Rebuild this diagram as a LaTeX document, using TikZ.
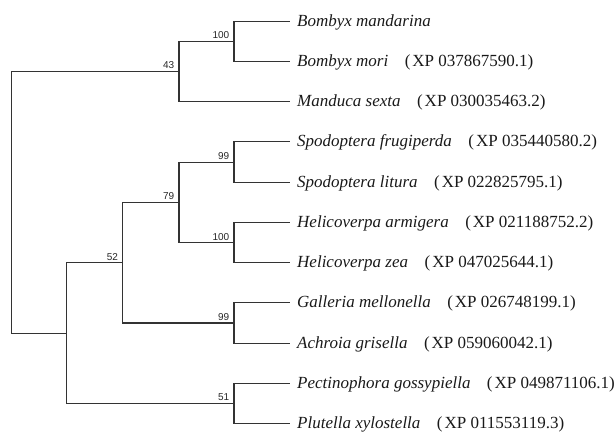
\documentclass[tikz,border=0pt]{standalone}
\usepackage{fontspec}
\setmainfont{Liberation Serif}
\newfontfamily\bsfont{Liberation Sans}
\begin{document}
\begin{tikzpicture}[x=1pt,y=-1pt,
  branch/.style={draw=black!80, line width=1.1pt},
  boot/.style={font=\bsfont\fontsize{10}{12}\selectfont, text=black!85, anchor=base east, inner sep=0pt, xshift=-4.5pt, yshift=2.6pt},
  leaf/.style={font=\fontsize{17}{20}\selectfont, text=black!90, anchor=base west, inner sep=0pt}]
\useasboundingbox (0,0) rectangle (616,433);
% internal nodes
\coordinate (root) at (11.7,202);
\coordinate (n43) at (179,71.3);
\coordinate (nBm) at (234,41.4);
\coordinate (nlow) at (66.7,333.1);
\coordinate (n52) at (122.7,262.7);
\coordinate (n79) at (179,202.3);
\coordinate (nSp) at (234,162.1);
\coordinate (nHe) at (234,242.6);
\coordinate (nGa) at (234,323);
\coordinate (nPe) at (234,403.2);
% leaf tips
\foreach \i/\y in {1/21.7,2/61.1,3/101.2,4/141.9,5/182.2,6/222.6,7/262.7,8/302.9,9/343.1,10/383.3,11/423.2}{
  \coordinate (t\i) at (290,\y);
}
% leaf labels
\newcommand{\acc}[1]{\hspace{16.5pt}(\hspace{2pt}XP #1)}
\node[leaf] (l1) at ([xshift=7pt,yshift=-5pt]t1) {\textit{Bombyx mandarina}};
\node[leaf] (l2) at ([xshift=7pt,yshift=-5pt]t2) {\textit{Bombyx mori}\acc{037867590.1}};
\node[leaf] (l3) at ([xshift=7pt,yshift=-5pt]t3) {\textit{Manduca sexta}\acc{030035463.2}};
\node[leaf] (l4) at ([xshift=7pt,yshift=-5pt]t4) {\textit{Spodoptera frugiperda}\acc{035440580.2}};
\node[leaf] (l5) at ([xshift=7pt,yshift=-5pt]t5) {\textit{Spodoptera litura}\acc{022825795.1}};
\node[leaf] (l6) at ([xshift=7pt,yshift=-5pt]t6) {\textit{Helicoverpa armigera}\acc{021188752.2}};
\node[leaf] (l7) at ([xshift=7pt,yshift=-5pt]t7) {\textit{Helicoverpa zea}\acc{047025644.1}};
\node[leaf] (l8) at ([xshift=7pt,yshift=-5pt]t8) {\textit{Galleria mellonella}\acc{026748199.1}};
\node[leaf] (l9) at ([xshift=7pt,yshift=-5pt]t9) {\textit{Achroia grisella}\acc{059060042.1}};
\node[leaf] (l10) at ([xshift=7pt,yshift=-5pt]t10) {\textit{Pectinophora gossypiella}\acc{049871106.1}};
\node[leaf] (l11) at ([xshift=7pt,yshift=-5pt]t11) {\textit{Plutella xylostella}\acc{011553119.3}};
% branches
\draw[branch] (root) |- (n43);
\draw[branch] (root) |- (nlow);
\draw[branch] (n43) |- (nBm);
\draw[branch] (n43) |- (t3);
\draw[branch] (nBm) |- (t1);
\draw[branch] (nBm) |- (t2);
\draw[branch] (nlow) |- (n52);
\draw[branch] (nlow) |- (nPe);
\draw[branch] (n52) |- (n79);
\draw[branch] (n52) |- (nGa);
\draw[branch] (n79) |- (nSp);
\draw[branch] (n79) |- (nHe);
\draw[branch] (nSp) |- (t4);
\draw[branch] (nSp) |- (t5);
\draw[branch] (nHe) |- (t6);
\draw[branch] (nHe) |- (t7);
\draw[branch] (nGa) |- (t8);
\draw[branch] (nGa) |- (t9);
\draw[branch] (nPe) |- (t10);
\draw[branch] (nPe) |- (t11);
% bootstrap values
\node[boot] (b1) at (nBm) {100};
\node[boot] (b2) at (n43) {43};
\node[boot] (b3) at (nSp) {99};
\node[boot] (b4) at (n79) {79};
\node[boot] (b5) at (nHe) {100};
\node[boot] (b6) at (n52) {52};
\node[boot] (b7) at (nGa) {99};
\node[boot] (b8) at (nPe) {51};
\end{tikzpicture}
\end{document}
